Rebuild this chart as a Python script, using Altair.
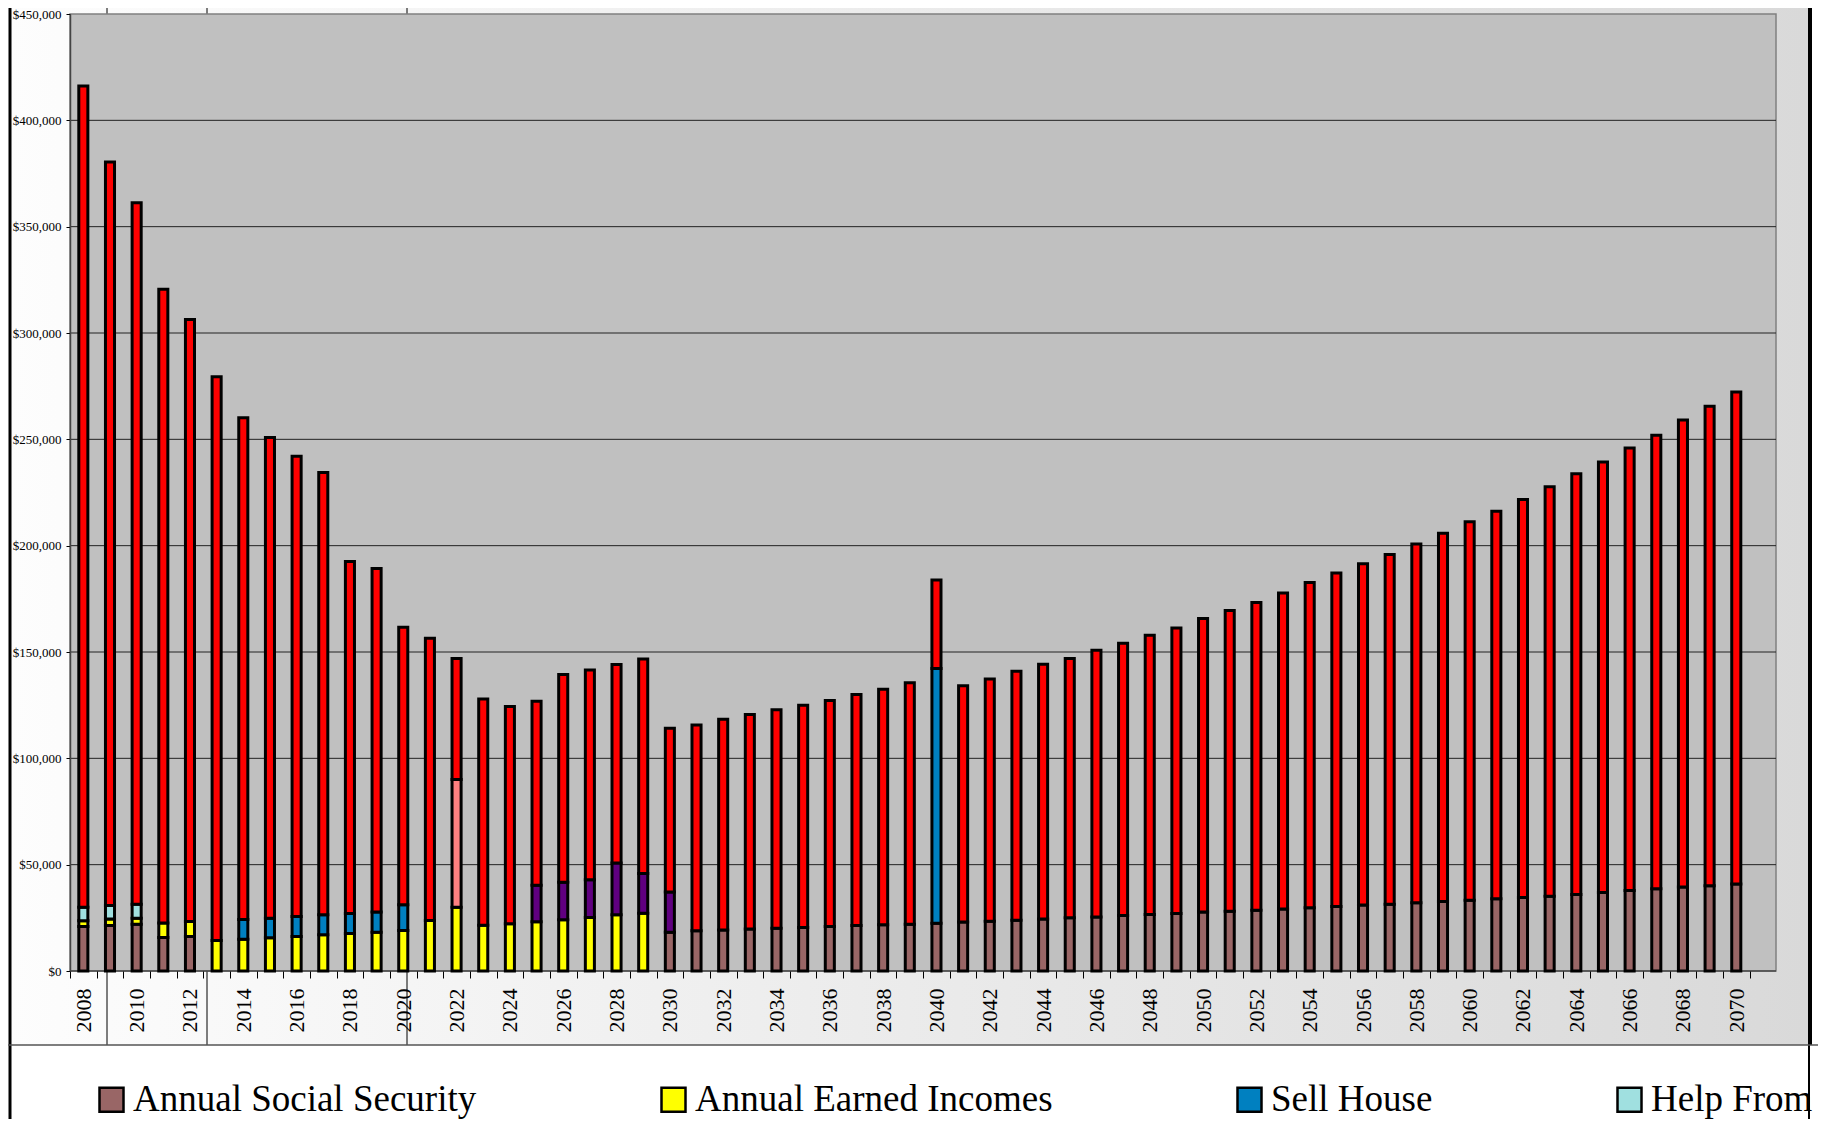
import altair as alt
import pandas as pd

# ---------------- data (values in thousands of dollars) ----------------
years = list(range(2008, 2071))

series_names = [
    "Annual Social Security",
    "Annual Earned Incomes",
    "Sell House",
    "Help From Family",
    "Other Assets",
    "Annual Pension",
    "Savings Balance",
]
series_colors = ["#996666", "#FFFF00", "#0080C0", "#A0E0E0", "#FF8080", "#600080", "#FF0000"]

social_security = [20.9, 21.4, 22.0, 15.7, 16.2] + [0.0] * 17 + [
    18.2, 18.9, 19.3, 19.8, 20.1, 20.4, 20.9, 21.4, 21.7, 22.0,
    22.5, 23.0, 23.4, 23.9, 24.5, 25.0, 25.4, 26.1, 26.6, 27.0,
    27.7, 28.1, 28.6, 29.2, 29.7, 30.3, 31.0, 31.4, 32.1, 32.7,
    33.3, 34.0, 34.6, 35.2, 36.0, 36.9, 37.9, 38.7, 39.5, 40.1, 40.9]

earned_incomes = [2.7, 3.0, 2.8, 6.9, 7.1, 14.3, 14.9, 15.6, 16.2, 17.0, 17.6,
                  18.2, 19.0, 23.7, 30.0, 21.5, 22.2, 23.1, 24.1, 25.2, 26.4, 27.2] + [0.0] * 41

sell_house = [0.0] * 6 + [9.3, 9.2, 9.4, 9.4, 9.4, 9.5, 12.1] + [0.0] * 19 + [119.8] + [0.0] * 30

help_from = [6.4, 6.4, 6.6] + [0.0] * 60

other_assets = [0.0] * 14 + [60.0] + [0.0] * 48

pension = [0.0] * 17 + [17.2, 17.6, 17.7, 24.4, 18.6, 18.9] + [0.0] * 40

savings = [386.2, 349.6, 329.8, 298.0, 283.0, 265.1, 236.0, 226.1, 216.5, 208.0,
           165.6, 161.6, 130.5, 132.8, 57.0, 106.4, 102.2, 86.6, 97.7, 98.6,
           93.3, 100.9, 77.0, 96.8, 99.1, 100.8, 102.7, 104.6, 106.3, 108.6,
           110.8, 113.5, 41.5, 111.1, 113.9, 117.0, 119.7, 122.0, 125.4, 128.0,
           131.3, 134.3, 138.0, 141.4, 144.7, 148.5, 153.0, 156.8, 160.5, 164.5,
           168.7, 173.1, 178.0, 182.2, 187.1, 192.5, 197.8, 202.4, 208.0, 213.2,
           219.6, 225.5, 231.3]

y_ticks = [0, 50000, 100000, 150000, 200000, 250000, 300000, 350000, 400000, 450000]
grid_vals = [0, 50000, 100000, 150000, 200000, 250000, 300000, 350000, 400000]

all_series = [social_security, earned_incomes, sell_house, help_from,
              other_assets, pension, savings]

rows = []
for idx, (name, vals) in enumerate(zip(series_names, all_series)):
    for yr, v in zip(years, vals):
        if v > 0:
            rows.append({"year": yr, "series": name, "idx": idx, "value": v * 1000})
df = pd.DataFrame(rows)

# ---------------- layout constants ----------------
FONT = "Liberation Serif"
W, H = 1706, 957
one = pd.DataFrame({"a": [0]})

y_scale = alt.Scale(domain=[0, 450000], nice=False)
y_axis = alt.Axis(title=None, values=y_ticks, format="$,.0f", grid=False,
                  labelFont=FONT, labelFontSize=13, labelColor="black",
                  tickSize=4, tickColor="black", labelPadding=5,
                  domainColor="#444444", domainWidth=1.5, zindex=1)

# background of the chart area (light gradient)
bg = alt.Chart(one).mark_rect(
    fill=alt.LinearGradient(
        gradient="linear",
        stops=[alt.GradientStop(color="#fdfdfd", offset=0),
               alt.GradientStop(color="#d9d9d9", offset=1)],
        x1=0, x2=1, y1=0, y2=0)
).encode(x=alt.value(-62), x2=alt.value(1738), y=alt.value(-6), y2=alt.value(1031))

seps = [
    alt.Chart(one).mark_rule(color="black", strokeWidth=1).encode(
        x=alt.value(px), y=alt.value(-6), y2=alt.value(1031))
    for px in (37, 137, 337)
]

plot_bg = alt.Chart(one).mark_rect(fill="#C0C0C0", stroke="#808080", strokeWidth=1.5).encode(
    x=alt.value(0), x2=alt.value(W), y=alt.value(0), y2=alt.value(H))

grid = alt.Chart(pd.DataFrame({"value": grid_vals})).mark_rule(color="#222222", strokeWidth=1).encode(
    y=alt.Y("value:Q", scale=y_scale, axis=y_axis),
    x=alt.value(0), x2=alt.value(W))

bars = alt.Chart(df).mark_bar(
    width=alt.RelativeBandSize(0.34), stroke="black", strokeWidth=3, strokeJoin="miter"
).encode(
    x=alt.X("year:O",
            scale=alt.Scale(range=[0, 1679.6], paddingInner=0, paddingOuter=0),
            axis=alt.Axis(title=None, labelAngle=270, labelFont=FONT, labelFontSize=22,
                          labelColor="black", labelPadding=10, tickBand="extent",
                          tickSize=7, tickColor="black", tickWidth=1, domain=False,
                          labelExpr="datum.value % 2 == 0 ? datum.label : ''",
                          zindex=1)),
    y=alt.Y("value:Q", stack="zero", scale=y_scale, axis=y_axis),
    color=alt.Color("series:N",
                    scale=alt.Scale(domain=series_names, range=series_colors),
                    legend=alt.Legend(
                        values=series_names[:4], title=None, orient="none",
                        legendX=23, legendY=1067, direction="horizontal",
                        symbolType="square", symbolSize=576,
                        symbolStrokeColor="black", symbolStrokeWidth=2.5,
                        symbolOpacity=1,
                        labelFont=FONT, labelFontSize=37, labelColor="black",
                        labelOffset=3, labelLimit=0, columnPadding=178,
                        padding=0,
                        labelExpr="datum.label == 'Help From Family' ? 'Help From' : datum.label")),
    order=alt.Order("idx:Q", sort="ascending"),
)

left_line = alt.Chart(one).mark_rule(color="black", strokeWidth=3).encode(
    x=alt.value(-60), y=alt.value(-6), y2=alt.value(1105))
right_line = alt.Chart(one).mark_rule(color="black", strokeWidth=4).encode(
    x=alt.value(1740), y=alt.value(-6), y2=alt.value(1031))
right_line2 = alt.Chart(one).mark_rule(color="black", strokeWidth=2).encode(
    x=alt.value(1739), y=alt.value(1031), y2=alt.value(1105))
h_line = alt.Chart(one).mark_rule(color="#555555", strokeWidth=1.5).encode(
    x=alt.value(-62), x2=alt.value(1748), y=alt.value(1031))

chart = alt.layer(
    bg, *seps, plot_bg, grid, bars, left_line, right_line, right_line2, h_line
).properties(
    width=W, height=H,
    padding={"left": 62, "top": 6, "right": 42, "bottom": 148},
    autosize=alt.AutoSizeParams(type="none"),
    background="white",
).configure_view(stroke=None, fill=None)

chart.save("out.html", embed_options={"renderer": "svg", "actions": False})
